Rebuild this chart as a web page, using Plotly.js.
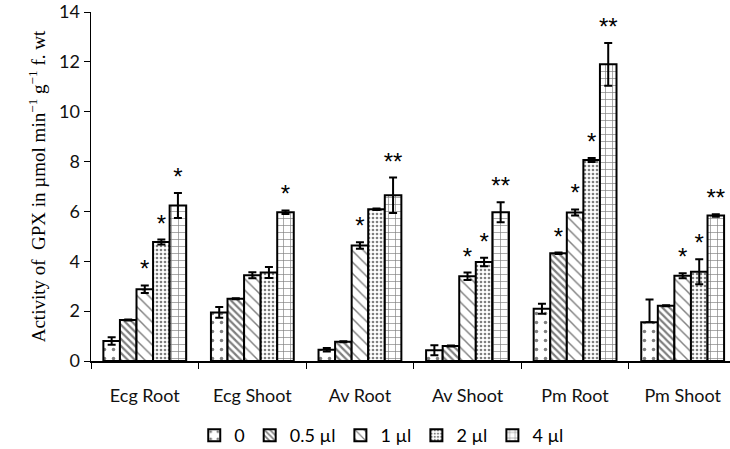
<!DOCTYPE html>
<html><head><meta charset="utf-8">
<script src="https://cdn.plot.ly/plotly-3.0.1.min.js"></script>
<style>body{margin:0;background:#fff}#c{width:730px;height:449px}</style>
</head><body><div id="c"></div>
<script>
const categories = ["Ecg Root","Ecg Shoot","Av Root","Av Shoot","Pm Root","Pm Shoot"];
const seriesNames = ["0","0.5 µl","1 µl","2 µl","4 µl"];
const v0   = [0.80, 1.95, 0.45, 0.43, 2.10, 1.55];
const v05  = [1.64, 2.50, 0.77, 0.60, 4.32, 2.22];
const v1   = [2.88, 3.44, 4.63, 3.40, 5.96, 3.42];
const v2   = [4.77, 3.55, 6.09, 3.97, 8.06, 3.58];
const v4   = [6.24, 5.97, 6.65, 5.97, 11.90, 5.84];
const e0   = [0.15, 0.22, 0.07, 0.20, 0.20, 0.92];
const e0minus = [0.15, 0.22, 0.07, 0.20, 0.20, 0.0];
const e05  = [0.02, 0.02, 0.02, 0.02, 0.03, 0.02];
const e1   = [0.15, 0.12, 0.13, 0.15, 0.12, 0.10];
const e2   = [0.10, 0.22, 0.03, 0.17, 0.08, 0.50];
const e4   = [0.50, 0.07, 0.71, 0.40, 0.86, 0.05];
const s0   = ["","","","","",""];
const s05  = ["","","","","*",""];
const s1   = ["*","","*","*","*","*"];
const s2   = ["*","","","*","*","*"];
const s4   = ["*","*","**","**","**","**"];

const values = [v0,v05,v1,v2,v4];
const errs = [e0,e05,e1,e2,e4];
const errsMinus = [e0minus,e05,e1,e2,e4];
const stars = [s0,s05,s1,s2,s4];
const patterns = [
  {shape:".", size:9, solidity:0.12},
  {shape:"\\", size:5, solidity:0.45},
  {shape:"\\", size:8, solidity:0.18},
  {shape:".", size:4, solidity:0.35},
  {shape:"+", size:7, solidity:0.18}
];
const traces = [];
values.forEach((v,i)=>{
  traces.push({
    type:"bar", x:categories, y:v, name:seriesNames[i], offsetgroup:"g"+i,
    marker:{color:"#fff", line:{color:"#000", width:2},
      pattern:Object.assign({fgcolor:"#000", bgcolor:"#fff", fillmode:"overlay"}, patterns[i])},
    error_y:{type:"data", symmetric:false, array:errs[i], arrayminus:errsMinus[i], visible:true, color:"#000", thickness:2, width:4},
    hoverinfo:"skip"
  });
});
values.forEach((v,i)=>{
  const idx = stars[i].map((s,j)=>s ? j : -1).filter(j=>j>=0);
  if (!idx.length) return;
  traces.push({
    type:"bar", x:idx.map(j=>categories[j]), y:idx.map(j=>v[j]+errs[i][j]), offsetgroup:"g"+i,
    showlegend:false, marker:{color:"rgba(0,0,0,0)", line:{width:0}},
    text:idx.map(j=>stars[i][j]), textposition:"outside", constraintext:"none", cliponaxis:false,
    textfont:{family:"Liberation Sans", size:24, color:"#000"}, hoverinfo:"skip"
  });
});
const layout = {
  width:730, height:449,
  margin:{l:91, r:0, t:12, b:88, autoexpand:false},
  paper_bgcolor:"#fff", plot_bgcolor:"#fff",
  barmode:"group", bargap:0.23, bargroupgap:0,
  font:{family:"Lato", color:"#000"},
  xaxis:{type:"category", range:[-0.5,5.44], showline:true, linecolor:"#000", linewidth:1.5,
    ticks:"outside", tickson:"boundaries", ticklen:6, tickcolor:"#000", tickwidth:1,
    ticklabelstandoff:18, tickfont:{family:"Lato", size:18, color:"#111"}, showgrid:false, zeroline:false},
  yaxis:{range:[0,14], dtick:2, showline:true, linecolor:"#000", linewidth:1.5,
    ticks:"outside", ticklen:6, tickcolor:"#000", showgrid:false, zeroline:false,
    tickfont:{family:"Lato", size:18, color:"#111"},
    title:{text:"Activity of  GPX in µmol min<sup>−1</sup> g<sup>−1</sup> f. wt", standoff:8,
      font:{family:"Liberation Serif", size:19, color:"#000"}}},
  legend:{orientation:"h", x:0.455, xanchor:"center", yref:"container", y:0.03, yanchor:"middle",
    font:{family:"Lato", size:18, color:"#000"}, itemwidth:30, tracegroupgap:0},
  showlegend:true
};
Plotly.newPlot("c", traces, layout, {staticPlot:true});
</script></body></html>
